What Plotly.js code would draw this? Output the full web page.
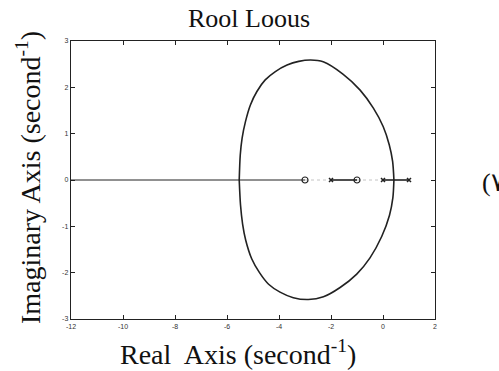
<!DOCTYPE html>
<html>
<head>
<meta charset="utf-8">
<script src="https://cdn.plot.ly/plotly-3.0.1.min.js"></script>
<style>
  html, body { margin: 0; padding: 0; background: #fff; }
  #chart { width: 499px; height: 371px; }
</style>
</head>
<body>
<div id="chart"></div>
<script>
// complex branches (real, imaginary)
var upperRe = [-5.53, -5.49, -5.42, -5.29, -5.10, -4.85, -4.53, -4.14, -3.69, -3.24, -2.78, -2.30, -1.53, -0.88, -0.37, 0.01, 0.24, 0.37, 0.42];
var upperIm = [0, 0.54, 0.90, 1.26, 1.62, 1.91, 2.16, 2.34, 2.48, 2.56, 2.59, 2.55, 2.28, 1.94, 1.55, 1.15, 0.76, 0.40, 0];
var lowerRe = [-5.53, -5.48, -5.40, -5.28, -5.05, -4.75, -4.40, -3.96, -3.45, -2.87, -2.29, -1.65, -1.01, -0.50, -0.05, 0.25, 0.38, 0.42];
var lowerIm = [0, -0.54, -0.95, -1.30, -1.70, -2.00, -2.25, -2.42, -2.54, -2.58, -2.52, -2.32, -2.03, -1.68, -1.22, -0.76, -0.38, 0];

// real-axis branches (start, end)
var realStart = [-12, -2, 0];
var realEnd = [-3, -1, 1];
// gaps drawn dotted
var gapStart = [-3, -1];
var gapEnd = [-2, 0];

var zerosRe = [-3, -1];
var polesRe = [-2, 0, 1];

var xTicks = [-12, -10, -8, -6, -4, -2, 0, 2];
var yTicks = [-3, -2, -1, 0, 1, 2, 3];

var serif = 'Liberation Serif, Times New Roman, serif';
var traces = [];

traces.push({x: upperRe, y: upperIm, mode: 'lines', line: {color: '#222', width: 1.6, shape: 'spline', smoothing: 0.8}, hoverinfo: 'skip'});
traces.push({x: lowerRe, y: lowerIm, mode: 'lines', line: {color: '#222', width: 1.6, shape: 'spline', smoothing: 0.8}, hoverinfo: 'skip'});

for (var i = 0; i < realStart.length; i++) {
    traces.push({x: [realStart[i], realEnd[i]], y: [0, 0], mode: 'lines',
                 line: {color: '#222', width: i == 0 ? 1 : 1.6}, hoverinfo: 'skip'});
}
for (var j = 0; j < gapStart.length; j++) {
    traces.push({x: [gapStart[j], gapEnd[j]], y: [0, 0], mode: 'lines',
                 line: {color: '#c4c4c4', width: 1, dash: 'dot'}, hoverinfo: 'skip'});
}
traces.push({x: zerosRe, y: zerosRe.map(function () { return 0; }), mode: 'markers',
             marker: {symbol: 'circle-open', size: 6, color: '#222', line: {width: 1.2, color: '#222'}}});
traces.push({x: polesRe, y: polesRe.map(function () { return 0; }), mode: 'markers',
             marker: {symbol: 'x-thin', size: 4, color: '#222', line: {width: 1.5, color: '#222'}}});

var axisCommon = {
    showgrid: false, zeroline: false,
    showline: true, linecolor: '#222', linewidth: 1.3, mirror: 'ticks',
    ticks: 'inside', ticklen: 4, tickcolor: '#222', tickwidth: 1,
    tickfont: {family: 'Arial, sans-serif', size: 7, color: '#333'}
};

var layout = {
    width: 499, height: 371,
    margin: {l: 71, r: 64, t: 41, b: 52},
    showlegend: false,
    paper_bgcolor: '#fff', plot_bgcolor: '#fff',
    xaxis: Object.assign({}, axisCommon, {range: [-12, 2], tickvals: xTicks, ticktext: xTicks.map(String)}),
    yaxis: Object.assign({}, axisCommon, {range: [-3, 3], tickvals: yTicks, ticktext: yTicks.map(String)}),
    annotations: [
        {text: 'Rool Loous', xref: 'paper', yref: 'paper', x: (249 - 71) / 364, y: 1 + (41 - 18) / 278,
         xanchor: 'center', yanchor: 'middle', showarrow: false,
         font: {family: serif, size: 26, color: '#111'}},
        {text: 'Real  Axis (second<sup>-1</sup>)', xref: 'paper', yref: 'paper', x: (238 - 71) / 364, y: -(352 - 319) / 278,
         xanchor: 'center', yanchor: 'middle', showarrow: false,
         font: {family: serif, size: 28, color: '#111'}},
        {text: 'Imaginary Axis (second<sup>-1</sup>)', xref: 'paper', yref: 'paper', x: (28 - 71) / 364, y: (319 - 178) / 278,
         xanchor: 'center', yanchor: 'middle', textangle: -90, showarrow: false,
         font: {family: serif, size: 28, color: '#111'}},
        {text: '(۷)', xref: 'paper', yref: 'paper', x: (480 - 71) / 364, y: (319 - 182) / 278,
         xanchor: 'left', yanchor: 'middle', showarrow: false,
         font: {family: serif, size: 26, color: '#111'}}
    ]
};

Plotly.newPlot('chart', traces, layout, {staticPlot: true});
</script>
</body>
</html>
